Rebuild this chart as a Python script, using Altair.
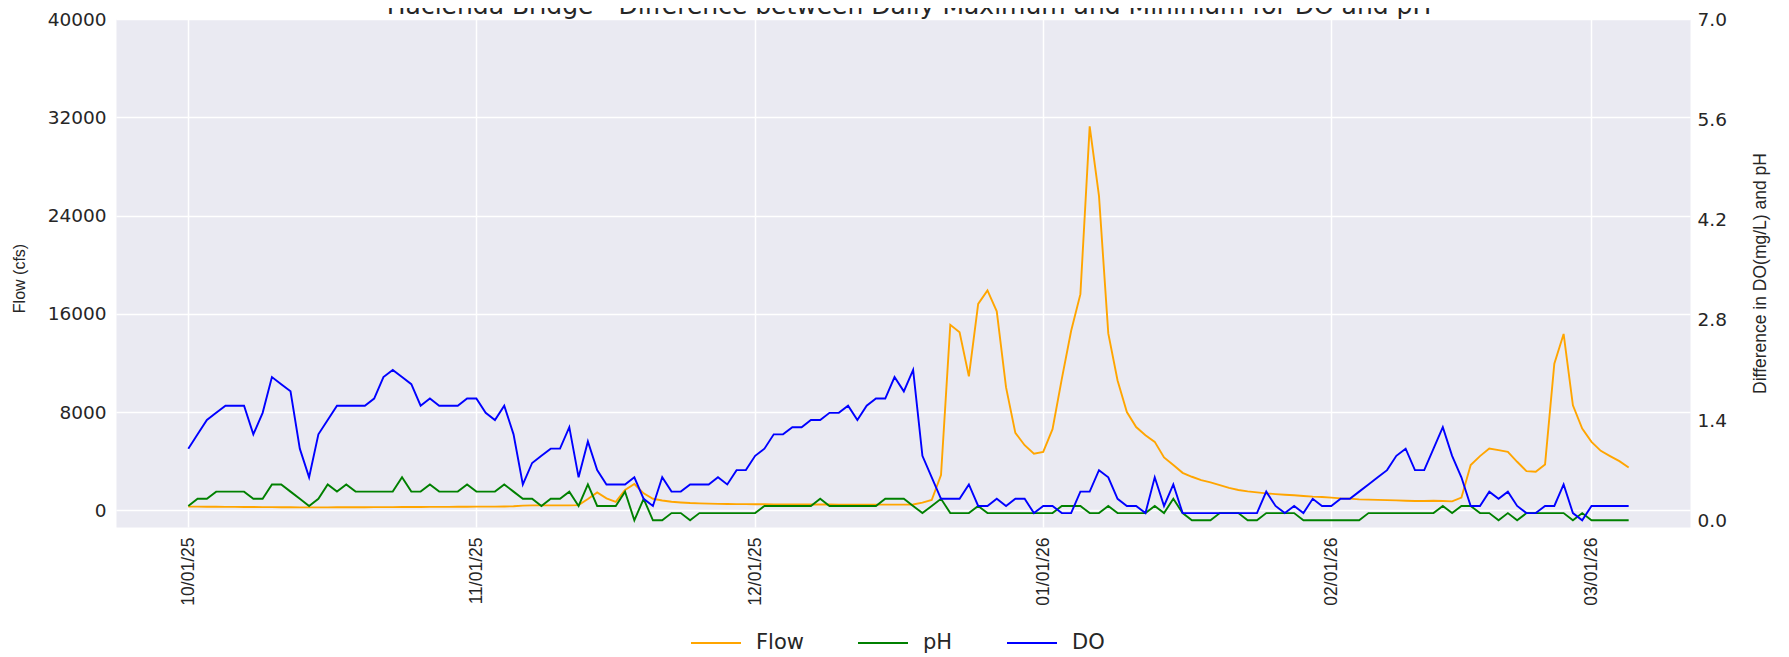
import altair as alt
import pandas as pd

# ---------------- data ----------------
dates = [d.strftime("%Y-%m-%dT00:00:00") for d in pd.date_range("2025-10-01", "2026-03-05", freq="D")]

flow = [
    300, 300, 290, 290, 280, 280, 270, 270, 260, 260,
    250, 250, 240, 240, 240, 240, 250, 250, 250, 250,
    260, 260, 260, 270, 270, 270, 280, 280, 280, 290,
    290, 300, 300, 300, 310, 330, 380, 400, 400, 400,
    400, 400, 420, 920, 1460, 970, 680, 1650, 2140, 1380,
    940, 800, 700, 640, 590, 560, 540, 520, 510, 500,
    500, 490, 490, 480, 480, 480, 470, 470, 470, 470,
    460, 460, 460, 460, 460, 460, 460, 460, 470, 620,
    840, 2870, 15100, 14500, 10900, 16800, 17900, 16200, 10000, 6300,
    5300, 4600, 4750, 6600, 10700, 14600, 17600, 31260, 25600, 14400,
    10570, 8000, 6780, 6110, 5570, 4300, 3680, 3050, 2730, 2460,
    2270, 2050, 1830, 1650, 1540, 1460, 1380, 1320, 1270, 1220,
    1160, 1110, 1080, 1030, 970, 950, 890, 870, 850, 830,
    810, 780, 760, 760, 780, 760, 730, 1030, 3680, 4410,
    5030, 4900, 4760, 3950, 3190, 3140, 3730, 11930, 14360, 8550,
    6650, 5570, 4840, 4410, 4000, 3490,
]

ph = [
    0.2, 0.3, 0.3, 0.4, 0.4, 0.4, 0.4, 0.3, 0.3, 0.5,
    0.5, 0.4, 0.3, 0.2, 0.3, 0.5, 0.4, 0.5, 0.4, 0.4,
    0.4, 0.4, 0.4, 0.6, 0.4, 0.4, 0.5, 0.4, 0.4, 0.4,
    0.5, 0.4, 0.4, 0.4, 0.5, 0.4, 0.3, 0.3, 0.2, 0.3,
    0.3, 0.4, 0.2, 0.5, 0.2, 0.2, 0.2, 0.4, 0.0, 0.3,
    0.0, 0.0, 0.1, 0.1, 0.0, 0.1, 0.1, 0.1, 0.1, 0.1,
    0.1, 0.1, 0.2, 0.2, 0.2, 0.2, 0.2, 0.2, 0.3, 0.2,
    0.2, 0.2, 0.2, 0.2, 0.2, 0.3, 0.3, 0.3, 0.2, 0.1,
    0.2, 0.3, 0.1, 0.1, 0.1, 0.2, 0.1, 0.1, 0.1, 0.1,
    0.1, 0.1, 0.1, 0.1, 0.2, 0.2, 0.2, 0.1, 0.1, 0.2,
    0.1, 0.1, 0.1, 0.1, 0.2, 0.1, 0.3, 0.1, 0.0, 0.0,
    0.0, 0.1, 0.1, 0.1, 0.0, 0.0, 0.1, 0.1, 0.1, 0.1,
    0.0, 0.0, 0.0, 0.0, 0.0, 0.0, 0.0, 0.1, 0.1, 0.1,
    0.1, 0.1, 0.1, 0.1, 0.1, 0.2, 0.1, 0.2, 0.2, 0.1,
    0.1, 0.0, 0.1, 0.0, 0.1, 0.1, 0.1, 0.1, 0.1, 0.0,
    0.1, 0.0, 0.0, 0.0, 0.0, 0.0,
]

do = [
    1.0, 1.2, 1.4, 1.5, 1.6, 1.6, 1.6, 1.2, 1.5, 2.0,
    1.9, 1.8, 1.0, 0.6, 1.2, 1.4, 1.6, 1.6, 1.6, 1.6,
    1.7, 2.0, 2.1, 2.0, 1.9, 1.6, 1.7, 1.6, 1.6, 1.6,
    1.7, 1.7, 1.5, 1.4, 1.6, 1.2, 0.5, 0.8, 0.9, 1.0,
    1.0, 1.3, 0.6, 1.1, 0.7, 0.5, 0.5, 0.5, 0.6, 0.3,
    0.2, 0.6, 0.4, 0.4, 0.5, 0.5, 0.5, 0.6, 0.5, 0.7,
    0.7, 0.9, 1.0, 1.2, 1.2, 1.3, 1.3, 1.4, 1.4, 1.5,
    1.5, 1.6, 1.4, 1.6, 1.7, 1.7, 2.0, 1.8, 2.1, 0.9,
    0.6, 0.3, 0.3, 0.3, 0.5, 0.2, 0.2, 0.3, 0.2, 0.3,
    0.3, 0.1, 0.2, 0.2, 0.1, 0.1, 0.4, 0.4, 0.7, 0.6,
    0.3, 0.2, 0.2, 0.1, 0.6, 0.2, 0.5, 0.1, 0.1, 0.1,
    0.1, 0.1, 0.1, 0.1, 0.1, 0.1, 0.4, 0.2, 0.1, 0.2,
    0.1, 0.3, 0.2, 0.2, 0.3, 0.3, 0.4, 0.5, 0.6, 0.7,
    0.9, 1.0, 0.7, 0.7, 1.0, 1.3, 0.9, 0.6, 0.2, 0.2,
    0.4, 0.3, 0.4, 0.2, 0.1, 0.1, 0.2, 0.2, 0.5, 0.1,
    0.0, 0.2, 0.2, 0.2, 0.2, 0.2,
]

series_names = ["Flow", "pH", "DO"]
series_colors = ["orange", "green", "blue"]

flow_ticks = [0, 8000, 16000, 24000, 32000, 40000]
wq_ticks = [0.0, 1.4, 2.8, 4.2, 5.6, 7.0]
month_ticks = [(2025, 10), (2025, 11), (2025, 12), (2026, 1), (2026, 2), (2026, 3)]

title_text = "Hacienda Bridge - Difference between Daily Maximum and Minimum for DO and pH"
left_title = "Flow (cfs)"
right_title = "Difference in DO(mg/L) and pH"

# ---------------- tables ----------------
flow_df = pd.DataFrame({"date": dates, "value": flow, "series": "Flow"})
wq_df = pd.concat([
    pd.DataFrame({"date": dates, "value": ph, "series": "pH"}),
    pd.DataFrame({"date": dates, "value": do, "series": "DO"}),
], ignore_index=True)

W, H = 1574, 508
TEXT = "#262626"

x_enc = alt.X(
    "date:T",
    title=None,
    scale=alt.Scale(domain=[
        alt.DateTime(year=2025, month=9, date=23, hours=5, minutes=17),
        alt.DateTime(year=2026, month=3, date=11, hours=14, minutes=24),
    ]),
    axis=alt.Axis(
        values=[alt.DateTime(year=y, month=m, date=1) for y, m in month_ticks],
        format="%m/%d/%y",
        labelAngle=270,
        labelAlign="right",
        labelBaseline="middle",
        labelFont="Liberation Sans",
        labelFontSize=17.5,
        labelColor=TEXT,
        labelPadding=10,
        labelFlush=False,
        labelOverlap=False,
        ticks=False,
        domain=False,
        grid=True,
        gridColor="white",
        gridWidth=1.5,
    ),
)

legend = alt.Legend(
    orient="none",
    legendX=574,
    legendY=598,
    direction="horizontal",
    title=None,
    symbolType="stroke",
    symbolSize=2500,
    symbolStrokeWidth=2,
    labelFont="DejaVu Sans",
    labelFontSize=21,
    labelColor=TEXT,
    labelOffset=14,
    columnPadding=50,
)

color_enc = alt.Color(
    "series:N",
    scale=alt.Scale(domain=series_names, range=series_colors),
    legend=legend,
)

flow_line = alt.Chart(flow_df).mark_line(strokeWidth=1.9).encode(
    x=x_enc,
    y=alt.Y(
        "value:Q",
        scale=alt.Scale(domain=[-1360, 40000], nice=False, zero=False),
        axis=alt.Axis(
            orient="left",
            values=flow_ticks,
            format="d",
            title=left_title,
            titleFont="Liberation Sans",
            titleFontSize=16,
            titleFontWeight="normal",
            titleColor=TEXT,
            titleAngle=270,
            titleAlign="center",
            titleBaseline="middle",
            titleX=-97,
            titleY=H / 2 + 5,
            labelFont="DejaVu Sans",
            labelFontSize=18.5,
            labelColor=TEXT,
            labelPadding=10,
            labelFlush=False,
            labelOverlap=False,
            ticks=False,
            domain=False,
            grid=True,
            gridColor="white",
            gridWidth=1.5,
        ),
    ),
    color=color_enc,
)

wq_line = alt.Chart(wq_df).mark_line(strokeWidth=1.9).encode(
    x=x_enc,
    y=alt.Y(
        "value:Q",
        scale=alt.Scale(domain=[-0.094, 7.0], nice=False, zero=False),
        axis=alt.Axis(
            orient="right",
            values=wq_ticks,
            format=".1f",
            title=right_title,
            titleFont="Liberation Sans",
            titleFontSize=17.5,
            titleFontWeight="normal",
            titleColor=TEXT,
            titleAngle=270,
            titleAlign="center",
            titleBaseline="middle",
            titleX=70,
            titleY=H / 2,
            labelFont="DejaVu Sans",
            labelFontSize=18.5,
            labelColor=TEXT,
            labelPadding=7,
            labelFlush=False,
            labelOverlap=False,
            ticks=False,
            domain=False,
            grid=False,
        ),
    ),
    color=color_enc,
    order=alt.Order("series:N"),
)

title_layer = alt.Chart(pd.DataFrame({"t": [title_text]})).mark_text(
    font="DejaVu Sans",
    fontSize=25,
    color=TEXT,
    align="center",
    baseline="alphabetic",
).encode(
    text="t:N",
    x=alt.value(793),
    y=alt.value(-5),
)

chart = (
    alt.layer(flow_line, wq_line, title_layer)
    .resolve_scale(y="independent")
    .properties(
        width=W,
        height=H,
        autosize=alt.AutoSizeParams(type="none"),
        padding={"left": 108, "top": 11, "right": 91, "bottom": 130},
        background="white",
    )
    .configure_view(fill="#EAEAF2", strokeOpacity=0)
)

chart.save("out.html", embed_options={"renderer": "svg", "actions": False})
